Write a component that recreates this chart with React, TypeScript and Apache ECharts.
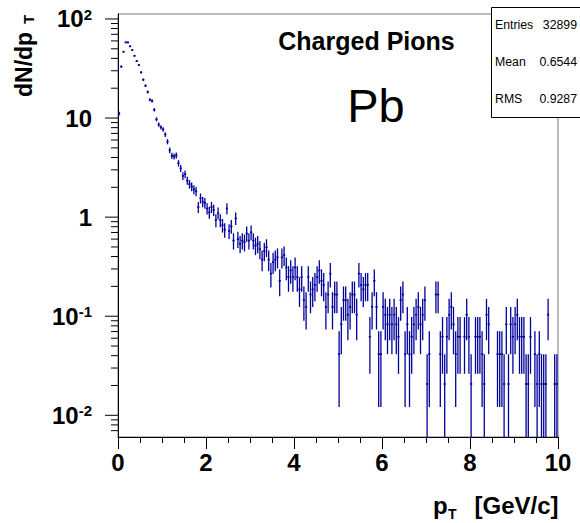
import React, { useEffect, useRef } from 'react';
import * as echarts from 'echarts';

// ---- histogram definition (ROOT TH1, 200 bins from 0 to 10 GeV/c) ----
const binWidth = 0.05;
const pTMin = 0;
const pTMax = 10;
// dN/dpT contributed by one entry (read from the height of single-entry bins)
const countScale = 0.0207;
// entries per bin
const counts = [
  536, 1594, 2256, 2802, 2802, 2560, 2343, 2053, 1816, 1657,
  1396, 1179, 1024, 884, 739, 720, 585, 469, 415, 389,
  371, 330, 279, 228, 201, 198, 203, 169, 150, 126,
  131, 113, 104, 98, 92, 88, 61, 75, 69, 67,
  59, 54, 61, 57, 45, 53, 45, 40, 36, 59,
  35, 39, 28, 47, 29, 26, 28, 27, 33, 28,
  34, 28, 25, 26, 23, 18, 22, 24, 18, 13,
  17, 18, 19, 11, 19, 20, 15, 12, 14, 12,
  15, 12, 9, 12, 7, 6, 12, 8, 9, 10,
  12, 14, 11, 10, 6, 8, 13, 6, 8, 8,
  2, 4, 7, 7, 5, 6, 8, 8, 5, 13,
  10, 9, 10, 10, 3, 6, 11, 6, 2, 2,
  6, 5, 4, 5, 4, 5, 4, 3, 7, 8,
  2, 4, 2, 3, 4, 5, 6, 4, 5, 7,
  1, 2, 0, 0, 8, 8, 2, 3, 1, 3,
  5, 6, 4, 2, 3, 3, 0, 3, 5, 3,
  1, 0, 3, 3, 3, 2, 1, 5, 4, 0,
  0, 0, 2, 2, 2, 1, 4, 1, 4, 3,
  4, 5, 3, 3, 3, 1, 1, 3, 0, 2,
  1, 2, 1, 1, 1, 5, 0, 0, 1, 1,
];

// ---- axes ----
const yMin = 0.00604;
const yMax = 112.2;
const yDecades = [0.001, 0.01, 0.1, 1, 10, 100];
const yMultipliers = [1, 2, 3, 4, 5, 6, 7, 8, 9];
const xLabelInterval = 2;

// ---- texts ----
const titleText = 'Charged Pions';
const targetText = 'Pb';
const statNames = ['Entries', 'Mean', 'RMS'];
const statValues = ['32899', '0.6544', '0.9287'];

const FONT = '"Liberation Sans", Arial, Helvetica, sans-serif';
const MARK = '#00009c';

export default function App() {
  const ref = useRef<HTMLDivElement>(null);

  useEffect(() => {
    if (!ref.current) return;
    const chart = echarts.init(ref.current, undefined, { renderer: 'svg' });

    const histData = counts
      .map((n, i) => [pTMin + (i + 0.5) * binWidth, n * countScale, Math.sqrt(n) * countScale, n])
      .filter((d) => d[3] > 0);

    const tickData: number[][] = [];
    yDecades.forEach((d) =>
      yMultipliers.forEach((m) => {
        const v = d * m;
        if (v >= yMin && v <= yMax) tickData.push([pTMin, v, m === 1 ? 1 : 0]);
      })
    );

    const option: any = {
      animation: false,
      grid: {
        left: 118,
        right: 22,
        top: 14,
        bottom: 86,
        show: true,
        borderColor: '#777',
        borderWidth: 1,
        backgroundColor: 'transparent',
      },
      xAxis: {
        type: 'value',
        min: pTMin,
        max: pTMax,
        interval: xLabelInterval,
        axisLine: { show: true, lineStyle: { color: '#000', width: 1 } },
        axisTick: { show: true, length: 12, lineStyle: { color: '#000' } },
        minorTick: { show: true, splitNumber: 4, length: 6, lineStyle: { color: '#000' } },
        splitLine: { show: false },
        minorSplitLine: { show: false },
        axisLabel: {
          color: '#000',
          fontFamily: FONT,
          fontWeight: 'bold',
          fontSize: 24,
          margin: 13,
        },
      },
      yAxis: {
        type: 'log',
        logBase: 10,
        min: yMin,
        max: yMax,
        axisLine: { show: true, lineStyle: { color: '#000', width: 1 } },
        axisTick: { show: false },
        splitLine: { show: false },
        axisLabel: {
          margin: 26,
          color: '#000',
          fontFamily: FONT,
          fontWeight: 'bold',
          formatter: (val: number) => {
            const l = Math.log10(val);
            const r = Math.round(l);
            if (Math.abs(l - r) > 1e-6) return '';
            if (r === 0) return '{b|1}';
            if (r === 1) return '{b|10}';
            return '{b|10}{s|' + r + '}';
          },
          rich: {
            b: { fontSize: 24, fontWeight: 'bold', fontFamily: FONT, color: '#000', verticalAlign: 'bottom' },
            s: { fontSize: 15, fontWeight: 'bold', fontFamily: FONT, color: '#000', verticalAlign: 'top' },
          },
        },
      },
      series: [
        {
          type: 'custom',
          name: 'yticks',
          data: tickData,
          silent: true,
          renderItem: (params: any, api: any) => {
            const v = api.value(1);
            const major = api.value(2) === 1;
            const p = api.coord([pTMin, v]);
            const x0 = params.coordSys.x;
            return {
              type: 'line',
              shape: { x1: x0 - (major ? 13 : 7), y1: p[1], x2: x0, y2: p[1] },
              style: { stroke: '#000', lineWidth: 1 },
            };
          },
        },
        {
          type: 'custom',
          name: 'pions',
          data: histData,
          silent: true,
          renderItem: (params: any, api: any) => {
            const x = api.value(0);
            const v = api.value(1);
            const e = api.value(2);
            const c = api.coord([x, v]);
            const bottomY = params.coordSys.y + params.coordSys.height;
            const topY = params.coordSys.y;
            const lo = v - e;
            const yLo = lo > yMin ? api.coord([x, lo])[1] : bottomY;
            const yHi = v + e < yMax ? api.coord([x, v + e])[1] : topY;
            const xl = api.coord([x - binWidth / 2, v])[0];
            const xr = api.coord([x + binWidth / 2, v])[0];
            return {
              type: 'group',
              children: [
                {
                  type: 'line',
                  shape: { x1: c[0], y1: yLo, x2: c[0], y2: yHi },
                  style: { stroke: MARK, lineWidth: 1.3 },
                },
                {
                  type: 'line',
                  shape: { x1: xl, y1: c[1], x2: xr, y2: c[1] },
                  style: { stroke: MARK, lineWidth: 1.6 },
                },
              ],
            };
          },
        },
      ],
      graphic: [
        {
          type: 'text',
          x: 366.5,
          y: 41,
          style: { text: titleText, font: 'bold 25px ' + FONT, fill: '#000', align: 'center', verticalAlign: 'middle' },
        },
        {
          type: 'text',
          x: 376,
          y: 105,
          style: { text: targetText, font: '47px ' + FONT, fill: '#000', align: 'center', verticalAlign: 'middle' },
        },
        // y axis title
        {
          type: 'text',
          x: 23.7,
          y: 97,
          rotation: Math.PI / 2,
          style: { text: 'dN/dp', font: 'bold 23px ' + FONT, fill: '#000', align: 'left', verticalAlign: 'middle' },
        },
        {
          type: 'text',
          x: 28.5,
          y: 24,
          rotation: Math.PI / 2,
          style: { text: 'T', font: 'bold 15px ' + FONT, fill: '#000', align: 'left', verticalAlign: 'middle' },
        },
        // x axis title
        {
          type: 'text',
          x: 433,
          y: 505.7,
          style: { text: 'p', font: 'bold 24px ' + FONT, fill: '#000', align: 'left', verticalAlign: 'middle' },
        },
        {
          type: 'text',
          x: 448,
          y: 513.5,
          style: { text: 'T', font: 'bold 14px ' + FONT, fill: '#000', align: 'left', verticalAlign: 'middle' },
        },
        {
          type: 'text',
          x: 558.5,
          y: 505.7,
          style: { text: '[GeV/c]', font: 'bold 24px ' + FONT, fill: '#000', align: 'right', verticalAlign: 'middle' },
        },
        // stats box
        {
          type: 'group',
          z: 100,
          children: [
            {
              type: 'rect',
              shape: { x: 491.5, y: 7.5, width: 100, height: 110 },
              style: { fill: '#fff', stroke: '#000', lineWidth: 1 },
            },
            ...statNames.map((s, i) => ({
              type: 'text',
              x: 495,
              y: 25 + i * 37,
              style: { text: s, font: '12.3px ' + FONT, fill: '#000', align: 'left', verticalAlign: 'middle' },
            })),
            ...statValues.map((s, i) => ({
              type: 'text',
              x: 577,
              y: 25 + i * 37,
              style: { text: s, font: '12.3px ' + FONT, fill: '#000', align: 'right', verticalAlign: 'middle' },
            })),
          ],
        },
      ],
    };

    chart.setOption(option);
    return () => chart.dispose();
  }, []);

  return (
    <div
      ref={ref}
      style={{ position: 'fixed', left: 0, top: 0, width: 580, height: 523, background: '#fff' }}
    />
  );
}
